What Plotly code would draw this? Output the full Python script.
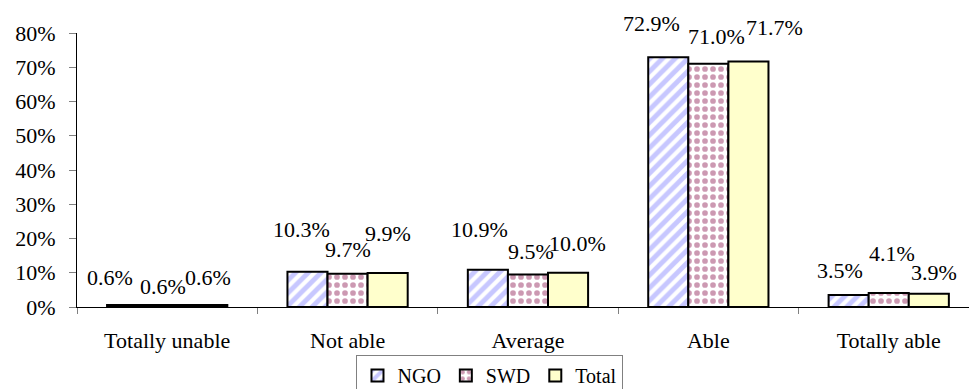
import plotly.graph_objects as go

# Response categories and share of respondents (%) per group
categories = ["Totally unable", "Not able", "Average", "Able", "Totally able"]
ngo = [0.6, 10.3, 10.9, 72.9, 3.5]
swd = [0.6, 9.7, 9.5, 71.0, 4.1]
total = [0.6, 9.9, 10.0, 71.7, 3.9]
y_ticks = [0, 10, 20, 30, 40, 50, 60, 70, 80]

FONT = "Times New Roman, Liberation Serif, serif"

series = [
    ("NGO", ngo, dict(color="white", pattern=dict(shape="/", fgcolor="#8f8fff", bgcolor="white",
                                                   size=9, solidity=0.55, fillmode="overlay"))),
    ("SWD", swd, dict(color="white", pattern=dict(shape=".", fgcolor="#993366", bgcolor="white",
                                                   size=8, solidity=0.4, fillmode="overlay"))),
    ("Total", total, dict(color="#ffffcc")),
]

# Pixel nudges for the value labels (horizontal shift, height of label centre above bar top)
label_dx = [[-17, -6, -8, -17, -9], [-4, 0, 3, 8, 3], [1, 0, 9, 26, 5]]
label_dy = [[27, 42, 40, 34, 25], [18, 24, 23, 27, 39], [27, 40, 29, 34, 21]]

fig = go.Figure()
for name, vals, marker in series:
    marker = dict(marker)
    marker["line"] = dict(color="black", width=2)
    fig.add_trace(go.Bar(name=name, x=categories, y=vals, marker=marker))

bar_w = (1 - 1 / 3) / 3
annotations = []
for j, (name, vals, _) in enumerate(series):
    for i, v in enumerate(vals):
        annotations.append(dict(
            x=i + (j - 1) * bar_w, y=v, xref="x", yref="y",
            text=f"{v:.1f}%", showarrow=False,
            xanchor="center", yanchor="middle",
            xshift=label_dx[j][i], yshift=label_dy[j][i],
            font=dict(family=FONT, size=22, color="black"),
        ))

fig.update_layout(
    width=969, height=389,
    margin=dict(l=77, r=0, t=33, b=82, autoexpand=False),
    paper_bgcolor="white", plot_bgcolor="white",
    barmode="group", bargap=1 / 3, bargroupgap=0,
    font=dict(family=FONT, size=22, color="black"),
    showlegend=True,
    legend=dict(orientation="h", x=0.463, xanchor="center", y=-0.175, yanchor="top",
                bordercolor="#808080", borderwidth=1, bgcolor="white",
                font=dict(family=FONT, size=20), traceorder="normal"),
    annotations=annotations,
)
fig.update_xaxes(
    range=[-0.5, 4.445], showline=True, linecolor="black", linewidth=1,
    ticks="outside", tickson="boundaries", ticklen=6, tickcolor="#808080",
    ticklabelstandoff=14,
    showgrid=False, tickfont=dict(family=FONT, size=22),
)
fig.update_yaxes(
    range=[0, 80], tickvals=y_ticks, ticktext=[f"{t}%" for t in y_ticks],
    showline=True, linecolor="black", linewidth=1,
    ticks="outside", ticklen=7, tickcolor="#808080", ticklabelstandoff=9,
    showgrid=False, zeroline=False, tickfont=dict(family=FONT, size=22),
)

fig.write_html("out.html")
